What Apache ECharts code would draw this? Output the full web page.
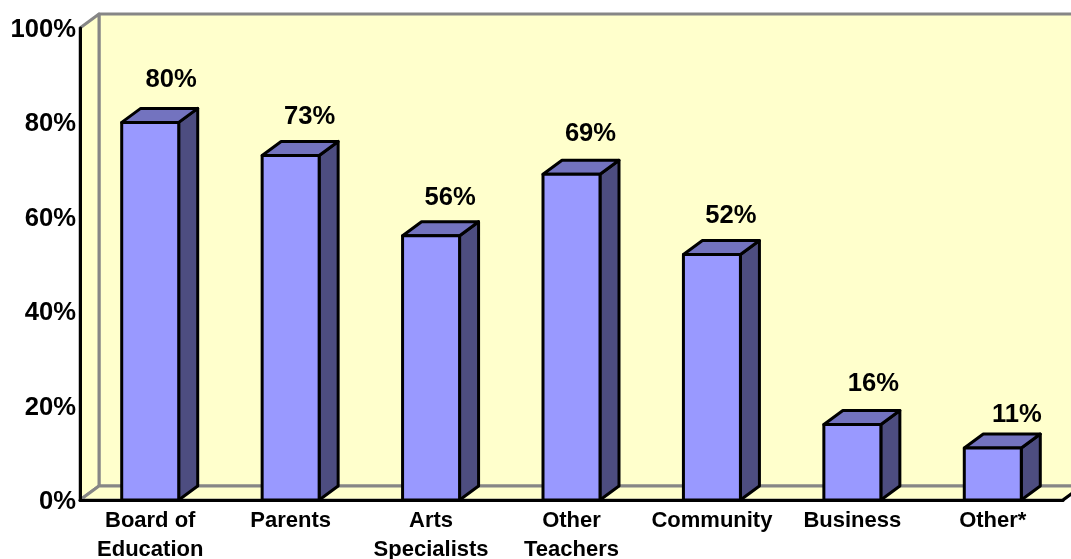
<!DOCTYPE html>
<html>
<head>
<meta charset="utf-8">
<style>html,body{margin:0;padding:0;background:#fff}#c{width:1071px;height:559px}</style>
<script src="https://cdn.jsdelivr.net/npm/echarts@6/dist/echarts.min.js"></script>
</head>
<body>
<div id="c"></div>
<script>
const categories = ['Board of\nEducation','Parents','Arts\nSpecialists','Other\nTeachers','Community','Business','Other*'];
const values = [80,73,56,69,52,16,11];
const axisTicks = [0,20,40,60,80,100];

const DX = 19, DY = 14, BAR_W = 57;
const labelLift = [42,39,38,40,39,41,33];
const labelShift = [21,19,19,19,19,21,24];
const FONT = '"Liberation Sans", Arial, sans-serif';

function poly(points, fill, stroke, lw) {
  return {type:'polygon', shape:{points}, style:{fill, stroke, lineWidth:lw, lineJoin:'round'}};
}

function renderWalls(params, api) {
  const c = params.coordSys;
  const l = c.x, r = c.x + c.width, t = c.y, b = c.y + c.height;
  const wall = '#FFFFCC', edge = '#868686';
  return {type:'group', children:[
    poly([[l+DX,t-DY],[r+DX,t-DY],[r+DX,b-DY],[l+DX,b-DY]], wall, edge, 3),
    poly([[l,t],[l+DX,t-DY],[l+DX,b-DY],[l,b]], wall, edge, 3),
    poly([[l,b],[l+DX,b-DY],[r+DX,b-DY],[r,b]], wall, edge, 3),
    {type:'line', shape:{x1:r,y1:b,x2:r+DX,y2:b-DY}, style:{stroke:'#000',lineWidth:3}}
  ]};
}

function renderBar(params, api) {
  const i = params.dataIndex;
  const top = api.coord([i, api.value(1)]);
  const base = api.coord([i, 0]);
  const x0 = top[0] - BAR_W/2, x1 = top[0] + BAR_W/2, y0 = top[1], y1 = base[1];
  const s = '#000', w = 3;
  return {type:'group', children:[
    poly([[x1,y0],[x1+DX,y0-DY],[x1+DX,y1-DY],[x1,y1]], '#4D4D80', s, w),
    poly([[x0,y0],[x0+DX,y0-DY],[x1+DX,y0-DY],[x1,y0]], '#7373BF', s, w),
    poly([[x0,y0],[x1,y0],[x1,y1],[x0,y1]], '#9999FF', s, w),
    {type:'text', x: top[0] + labelShift[i], y: y0 - labelLift[i],
      style:{text: api.value(1) + '%', fill:'#000', font:'bold 25.6px ' + FONT, textAlign:'center', textVerticalAlign:'middle'}}
  ]};
}

const chart = echarts.init(document.getElementById('c'), null, {renderer:'canvas'});
chart.setOption({
  animation:false,
  backgroundColor:'#fff',
  grid:{left:80, top:28, width:983, height:472, outerBoundsMode:'none'},
  xAxis:{
    type:'category', data:categories, z:5,
    axisLine:{show:true, onZero:false, lineStyle:{color:'#000', width:3}},
    axisTick:{show:false},
    axisLabel:{interval:0, margin:7, color:'#000', fontFamily:FONT, fontWeight:'bold', fontSize:22, lineHeight:28.5, verticalAlign:'top', overflow:'none', hideOverlap:false}
  },
  yAxis:{
    type:'value', min:axisTicks[0], max:axisTicks[axisTicks.length-1], interval:20, z:5,
    splitLine:{show:false},
    axisLine:{show:true, lineStyle:{color:'#000', width:3}},
    axisTick:{show:false},
    axisLabel:{margin:4, verticalAlign:'top', lineHeight:4, color:'#000', fontFamily:FONT, fontWeight:'bold', fontSize:25.6, formatter:'{value}%'}
  },
  series:[
    {type:'custom', clip:false, silent:true, z:1, renderItem:renderWalls, data:[0]},
    {type:'custom', clip:false, silent:true, z:3, renderItem:renderBar, encode:{x:0,y:1},
     data:values.map((v,i)=>[i,v])}
  ]
});
</script>
</body>
</html>
